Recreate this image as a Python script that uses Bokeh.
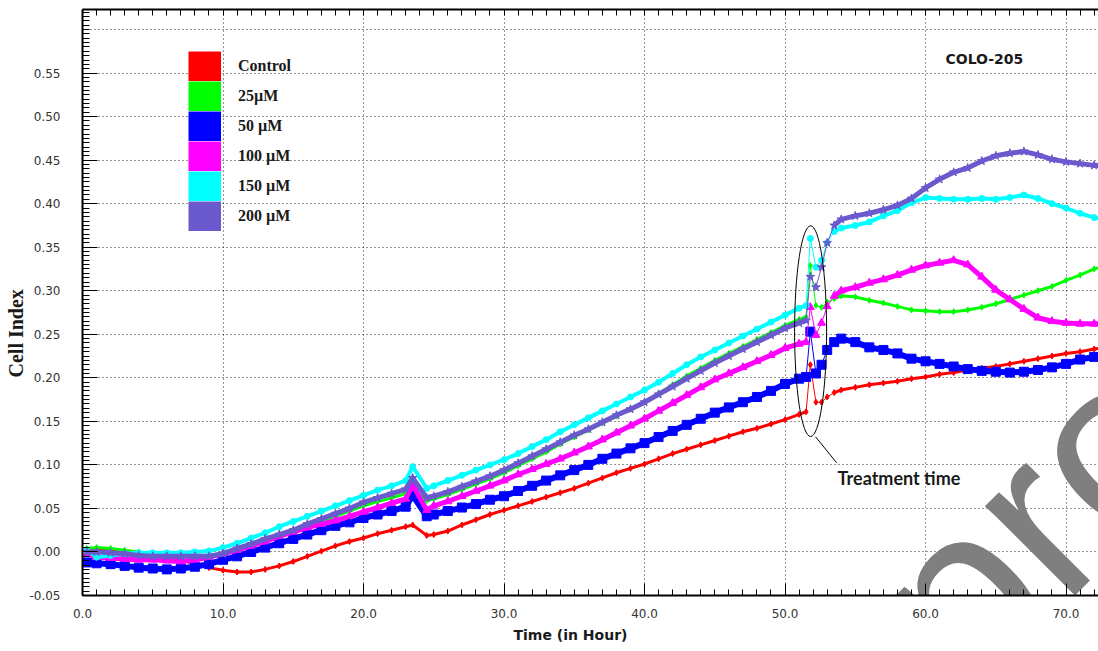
import numpy as np
from bokeh.plotting import figure
from bokeh.models import (Range1d, LinearAxis, SingleIntervalTicker, FixedTicker,
                          NumeralTickFormatter, Label, Legend, LegendItem, Title)
from bokeh.embed import file_html
from bokeh.resources import INLINE

# ---------------- data ----------------
hours = [0.3,
         1, 2, 3, 4, 5, 6, 7, 8, 9, 10, 11, 12, 13, 14, 15, 16, 17, 18, 19, 20, 21, 22, 23,
         23.5, 24.5,
         25, 26, 27, 28, 29, 30, 31, 32, 33, 34, 35, 36, 37, 38, 39, 40, 41, 42, 43, 44, 45,
         46, 47, 48, 49, 50, 51,
         51.5, 51.8, 52.2, 52.6, 53, 53.5,
         54, 55, 56, 57, 58, 59, 60, 61, 62, 63, 64, 65, 66, 67, 68, 69, 70, 71, 72, 73]

control = [0.003,
           0.004, 0.003, 0.001, -0.002, -0.004, -0.006, -0.009, -0.014, -0.018, -0.021, -0.023, -0.023,
           -0.020, -0.016, -0.011, -0.005, 0.001, 0.007, 0.012, 0.016, 0.021, 0.025, 0.029,
           0.031, 0.019,
           0.020, 0.024, 0.031, 0.037, 0.043, 0.048, 0.053, 0.058, 0.063, 0.068, 0.073, 0.079, 0.085,
           0.091, 0.096, 0.101, 0.107, 0.113, 0.118, 0.123, 0.128, 0.133, 0.138, 0.142, 0.147, 0.152, 0.158,
           0.161, 0.215, 0.172, 0.172, 0.178, 0.183,
           0.186, 0.189, 0.192, 0.194, 0.196, 0.199, 0.201, 0.204, 0.206, 0.209, 0.211, 0.213, 0.216,
           0.219, 0.222, 0.225, 0.228, 0.230, 0.233, 0.235]

um25 = [0.004,
        0.005, 0.004, 0.002, 0.000, -0.002, -0.003, -0.004, -0.005, -0.005, -0.002, 0.003, 0.008,
        0.013, 0.018, 0.023, 0.029, 0.035, 0.041, 0.047, 0.053, 0.058, 0.062, 0.067,
        0.072, 0.059,
        0.061, 0.066, 0.072, 0.078, 0.084, 0.091, 0.099, 0.107, 0.115, 0.124, 0.132, 0.140, 0.148,
        0.156, 0.164, 0.172, 0.182, 0.192, 0.202, 0.211, 0.220, 0.228, 0.236, 0.244, 0.252, 0.260, 0.267,
        0.270, 0.329, 0.283, 0.281, 0.287, 0.291,
        0.294, 0.293, 0.289, 0.286, 0.282, 0.278, 0.277, 0.276, 0.276, 0.278, 0.281, 0.285, 0.290,
        0.295, 0.300, 0.305, 0.312, 0.318, 0.325, 0.330]

um50 = [-0.012,
        -0.013, -0.014, -0.016, -0.018, -0.019, -0.020, -0.019, -0.017, -0.014, -0.009, -0.005, 0.000,
        0.005, 0.010, 0.015, 0.020, 0.025, 0.030, 0.034, 0.039, 0.043, 0.047, 0.052,
        0.065, 0.041,
        0.043, 0.047, 0.051, 0.055, 0.060, 0.064, 0.070, 0.076, 0.082, 0.088, 0.094, 0.100, 0.107,
        0.113, 0.119, 0.125, 0.132, 0.139, 0.146, 0.153, 0.160, 0.166, 0.172, 0.178, 0.185, 0.193, 0.199,
        0.201, 0.253, 0.205, 0.215, 0.232, 0.241,
        0.245, 0.241, 0.235, 0.232, 0.228, 0.222, 0.219, 0.216, 0.213, 0.210, 0.208, 0.207, 0.206,
        0.207, 0.209, 0.212, 0.216, 0.221, 0.224, 0.226]

um100 = [-0.002,
         -0.006, -0.007, -0.008, -0.009, -0.009, -0.010, -0.011, -0.009, -0.006, -0.002, 0.002, 0.007,
         0.012, 0.018, 0.023, 0.028, 0.032, 0.036, 0.041, 0.046, 0.051, 0.056, 0.061,
         0.077, 0.048,
         0.053, 0.058, 0.064, 0.070, 0.076, 0.082, 0.089, 0.095, 0.101, 0.107, 0.114, 0.121, 0.129,
         0.137, 0.145, 0.153, 0.162, 0.171, 0.180, 0.189, 0.198, 0.205, 0.212, 0.219, 0.226, 0.234, 0.239,
         0.241, 0.281, 0.249, 0.263, 0.282, 0.294,
         0.300, 0.304, 0.309, 0.313, 0.318, 0.324, 0.329, 0.332, 0.335, 0.330, 0.316, 0.301, 0.290,
         0.279, 0.269, 0.265, 0.263, 0.262, 0.262, 0.262]

um150 = [0.002,
         -0.006, -0.004, -0.002, -0.001, -0.001, -0.001, -0.001, 0.000, 0.001, 0.005, 0.010, 0.016,
         0.022, 0.029, 0.035, 0.041, 0.047, 0.053, 0.059, 0.065, 0.071, 0.076, 0.082,
         0.098, 0.073,
         0.076, 0.082, 0.088, 0.094, 0.100, 0.106, 0.113, 0.121, 0.129, 0.138, 0.146, 0.154, 0.162,
         0.170, 0.178, 0.186, 0.195, 0.205, 0.215, 0.224, 0.232, 0.240, 0.248, 0.256, 0.264, 0.272, 0.280,
         0.283, 0.360, 0.327, 0.335, 0.355, 0.368,
         0.372, 0.375, 0.379, 0.386, 0.392, 0.401, 0.407, 0.406, 0.405, 0.405, 0.406, 0.405, 0.407,
         0.410, 0.406, 0.400, 0.395, 0.389, 0.384, 0.381]

um200 = [0.000,
         0.000, -0.001, -0.002, -0.004, -0.005, -0.005, -0.005, -0.005, -0.005, -0.002, 0.004, 0.009,
         0.015, 0.020, 0.025, 0.032, 0.038, 0.044, 0.050, 0.057, 0.062, 0.067, 0.072,
         0.085, 0.062,
         0.064, 0.069, 0.075, 0.081, 0.087, 0.094, 0.102, 0.110, 0.118, 0.126, 0.134, 0.141, 0.149,
         0.157, 0.164, 0.172, 0.181, 0.190, 0.199, 0.208, 0.217, 0.225, 0.233, 0.241, 0.249, 0.257, 0.263,
         0.266, 0.316, 0.304, 0.327, 0.355, 0.375,
         0.382, 0.386, 0.389, 0.393, 0.398, 0.406, 0.418, 0.428, 0.436, 0.441, 0.449, 0.455, 0.458,
         0.460, 0.456, 0.451, 0.448, 0.446, 0.444, 0.443]

labels = ["Control", "25\u00b5M", "50 \u00b5M", "100 \u00b5M", "150 \u00b5M", "200 \u00b5M"]
colors = ["#ff0000", "#00ff00", "#0000ff", "#ff00ff", "#00ffff", "#6a5acd"]
markers = ["diamond", "diamond", "square", "triangle", "circle", "star"]
marker_sizes = [6, 6, 9, 8, 6, 9]
band_widths = [3, 3, 6, 5, 4, 5]
values = [control, um25, um50, um100, um150, um200]

y_tick_labels = [-0.05, 0.0, 0.05, 0.10, 0.15, 0.20, 0.25, 0.30, 0.35, 0.40, 0.45, 0.50, 0.55]

treatment_start, treatment_end = 51.5, 53.5

# ---------------- figure ----------------
p = figure(width=1098, height=651, output_backend="svg", toolbar_location=None,
           x_range=Range1d(0, 72.31), y_range=Range1d(-0.05, 0.623),
           min_border_left=82, min_border_right=0, min_border_top=9, min_border_bottom=56)
p.outline_line_color = None
p.background_fill_color = "white"
p.border_fill_color = "white"

xt = SingleIntervalTicker(interval=10, num_minor_ticks=10)
yt = SingleIntervalTicker(interval=0.05, num_minor_ticks=10)
y_minor = [round(-0.05 + 0.005 * i, 3) for i in range(135)]

xa = p.xaxis[0]
xa.ticker = xt
xa.formatter = NumeralTickFormatter(format="0.0")
ya = p.yaxis[0]
ya.ticker = FixedTicker(ticks=y_tick_labels, minor_ticks=y_minor)
ya.formatter = NumeralTickFormatter(format="0.00")

for ax in (xa, ya):
    ax.axis_line_width = 2
    ax.axis_line_color = "black"
    ax.major_tick_out = 0
    ax.minor_tick_out = 0
    ax.major_tick_line_color = "black"
    ax.minor_tick_line_color = "black"
    ax.major_label_text_font = "DejaVu Sans"
    ax.major_label_text_font_size = "12px"
    ax.major_label_text_color = "#333333"
xa.major_tick_in = 12
xa.minor_tick_in = 6
xa.major_label_standoff = 13
ya.major_tick_in = 15
ya.minor_tick_in = 7
ya.major_label_standoff = 22

top = LinearAxis(ticker=FixedTicker(ticks=[], minor_ticks=list(range(0, 73))),
                 major_tick_in=10, major_tick_out=0, minor_tick_in=6, minor_tick_out=0,
                 axis_line_width=2, axis_line_color="black", minor_tick_line_color="black")
p.add_layout(top, "above")

for g in (p.xgrid[0], p.ygrid[0]):
    g.grid_line_color = "black"
    g.grid_line_dash = "1 3"
    g.grid_line_width = 1
    g.grid_line_alpha = 0.85
p.xgrid[0].ticker = xt
p.ygrid[0].ticker = yt

# axis titles as side titles (offset moves them along the axis)
p.add_layout(Title(text="Cell Index", align="left", offset=218, standoff=0,
                   text_font="Liberation Serif",
                   text_font_style="bold", text_font_size="20px", text_color="#1a1a1a"), "left")
p.add_layout(Title(text="Time (in Hour)", align="left", offset=431, standoff=9,
                   text_font="DejaVu Sans",
                   text_font_style="bold", text_font_size="14px", text_color="#1a1a1a"), "below")

# watermark (behind data)
wm_x, wm_y = 58.9, -0.1045
p.add_layout(Label(x=wm_x, y=wm_y, text="proof", angle=45, angle_units="deg",
                   text_font="Liberation Sans", text_font_size="240px", text_color="#7f7f7f",
                   text_align="left", text_baseline="alphabetic", level="underlay"))

T = np.array(hours)
pre = T <= treatment_start
mid = (T >= treatment_start) & (T <= treatment_end)
post = T >= treatment_end

for vals, c, m, ms, lw in zip(values, colors, markers, marker_sizes, band_widths):
    v = np.array(vals)
    p.line(T[pre], v[pre], line_color=c, line_width=lw, line_join="round")
    p.line(T[mid], v[mid], line_color=c, line_width=1)
    p.line(T[post], v[post], line_color=c, line_width=lw, line_join="round")
    p.scatter(T, v, marker=m, size=ms, fill_color=c, line_color=c)

# treatment ellipse + leader
ell_x, ell_y, ell_w, ell_h = 51.82, 0.2536, 2.28, 0.242
p.ellipse(x=[ell_x], y=[ell_y], width=[ell_w], height=[ell_h],
          fill_alpha=0, line_color="black", line_width=1)
p.segment(x0=[52.17], y0=[0.1323], x1=[53.67], y1=[0.1025], line_color="black", line_width=1)

p.add_layout(Label(x=53.74, y=0.0853, text="Treatment time", text_font="Lato",
                   text_font_style="bold", text_font_size="18px", text_color="#1a1a1a",
                   text_align="left", text_baseline="middle"))
p.add_layout(Label(x=61.42, y=0.5658, text="COLO-205", text_font="DejaVu Sans",
                   text_font_style="bold", text_font_size="14px", text_color="#1a1a1a",
                   text_align="left", text_baseline="middle"))

# legend: wide line swatches stacked without gaps
items = []
for lab, c in zip(labels, colors):
    r = p.line(x=[float("nan")], y=[float("nan")], line_color=c, line_width=30)
    items.append(LegendItem(label=lab, renderers=[r]))
legend = Legend(items=items, location=(106, 364), glyph_width=33, glyph_height=30, spacing=0,
                label_standoff=17, padding=0, margin=0, border_line_alpha=0,
                background_fill_alpha=0, label_text_font="Liberation Serif",
                label_text_font_style="bold", label_text_font_size="16px",
                label_text_color="#1a1a1a")
p.add_layout(legend)

open("out.html", "w").write(file_html(p, INLINE))
